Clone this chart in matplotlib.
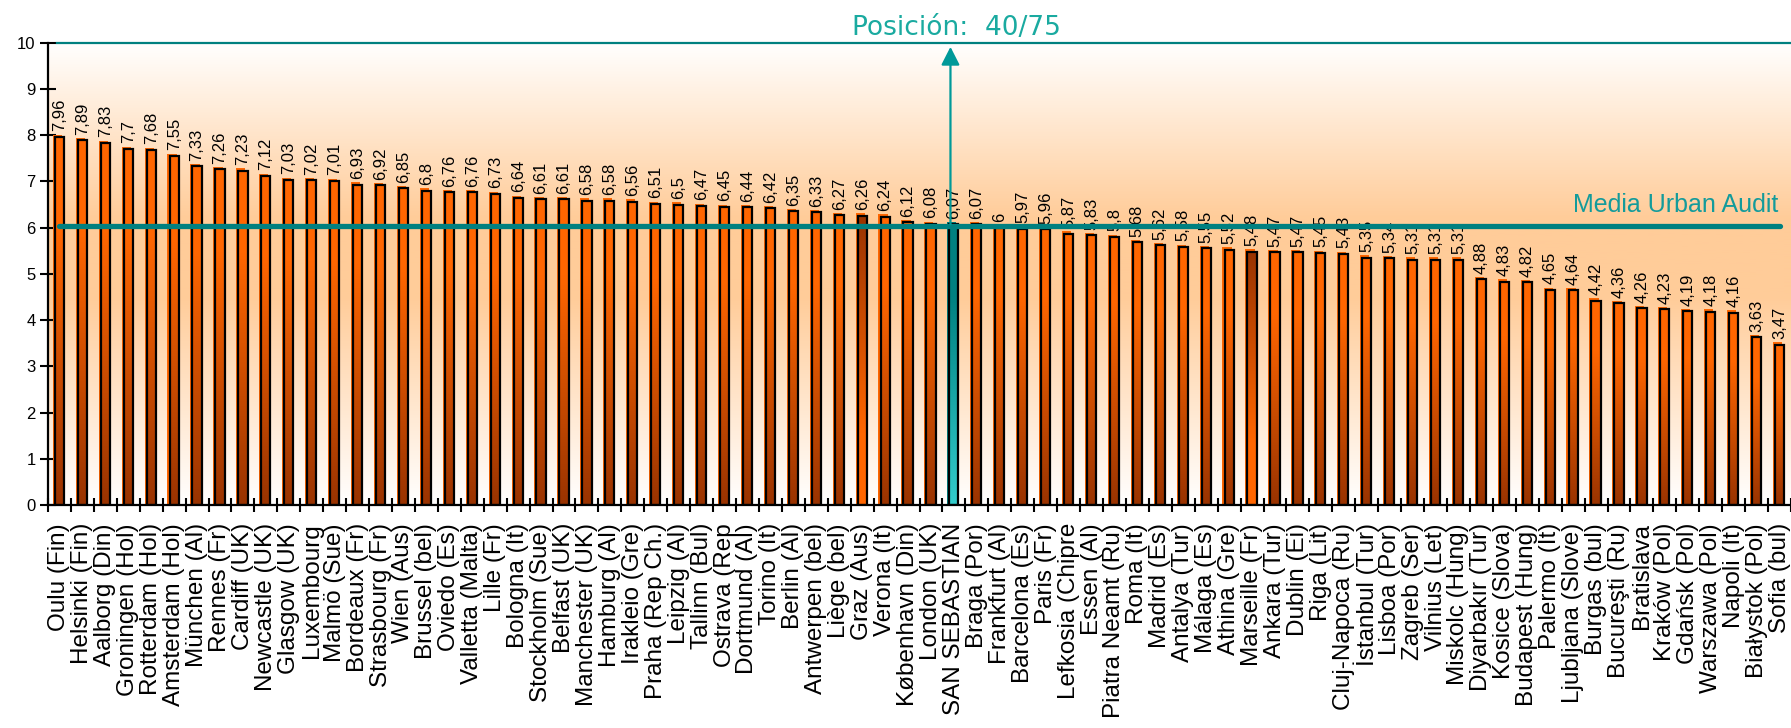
import matplotlib.pyplot as plt
import numpy as np
from matplotlib.colors import LinearSegmentedColormap

plt.rcParams['font.family'] = ['Liberation Sans', 'DejaVu Sans']

# Datos ----------------------------------------------
cities = ["Oulu (Fin)", "Helsinki (Fin)", "Aalborg (Din)", "Groningen (Hol)", "Rotterdam (Hol)",
          "Amsterdam (Hol)", "München (Al)", "Rennes (Fr)", "Cardiff (UK)", "Newcastle (UK)",
          "Glasgow (UK)", "Luxembourg", "Malmö (Sue)", "Bordeaux (Fr)", "Strasbourg (Fr)",
          "Wien (Aus)", "Brussel (bel)", "Oviedo (Es)", "Valletta (Malta)", "Lille (Fr)",
          "Bologna (It)", "Stockholm (Sue)", "Belfast (UK)", "Manchester (UK)", "Hamburg (Al)",
          "Irakleio (Gre)", "Praha (Rep Ch.)", "Leipzig (Al)", "Tallinn (Bul)", "Ostrava (Rep",
          "Dortmund (Al)", "Torino (It)", "Berlin (Al)", "Antwerpen (bel)", "Liège (bel)",
          "Graz (Aus)", "Verona (It)", "København (Din)", "London (UK)", "SAN SEBASTIAN",
          "Braga (Por)", "Frankfurt (Al)", "Barcelona (Es)", "Paris (Fr)", "Lefkosia (Chipre",
          "Essen (Al)", "Piatra Neamt (Ru)", "Roma (It)", "Madrid (Es)", "Antalya (Tur)",
          "Málaga (Es)", "Athina (Gre)", "Marseille (Fr)", "Ankara (Tur)", "Dublin (Ei)",
          "Riga (Lit)", "Cluj-Napoca (Ru)", "İstanbul (Tur)", "Lisboa (Por)", "Zagreb (Ser)",
          "Vilnius (Let)", "Miskolc (Hung)", "Diyarbakır (Tur)", "Kosice (Slova)", "Budapest (Hung)",
          "Palermo (It)", "Ljubljana (Slove)", "Burgas (bul)", "Bucureşti (Ru)", "Bratislava",
          "Kraków (Pol)", "Gdańsk (Pol)", "Warszawa (Pol)", "Napoli (It)", "Białystok (Pol)",
          "Sofia (bul)"]
values = [7.96, 7.89, 7.83, 7.7, 7.68, 7.55, 7.33, 7.26, 7.23, 7.12,
          7.03, 7.02, 7.01, 6.93, 6.92, 6.85, 6.8, 6.76, 6.76, 6.73,
          6.64, 6.61, 6.61, 6.58, 6.58, 6.56, 6.51, 6.5, 6.47, 6.45,
          6.44, 6.42, 6.35, 6.33, 6.27, 6.26, 6.24, 6.12, 6.08, 6.07,
          6.07, 6, 5.97, 5.96, 5.87, 5.83, 5.8, 5.68, 5.62, 5.58,
          5.55, 5.52, 5.48, 5.47, 5.47, 5.45, 5.43, 5.35, 5.34, 5.31,
          5.31, 5.31, 4.88, 4.83, 4.82, 4.65, 4.64, 4.42, 4.36, 4.26,
          4.23, 4.19, 4.18, 4.16, 3.63, 3.47]
media = 6.03
highlight = "SAN SEBASTIAN"
rank_text = "Posición:  40/75"
media_text = "Media Urban Audit"
reversed_fill = ["Graz (Aus)", "Marseille (Fr)"]

W, H = 1791, 728
fig = plt.figure(figsize=(W / 100, H / 100), dpi=100)
ax = fig.add_axes([48 / W, 1 - 505 / H, 1 - 48 / W, (505 - 42.7) / H])

n = len(values)
x = np.arange(n)
vals = np.array(values)
hi = cities.index(highlight)

# fondo degradado ------------------------------------
bg = LinearSegmentedColormap.from_list('bg', [(0, '#ffffff'), (0.45, '#ffcc99'),
                                              (0.62, '#ffcc99'), (1, '#ffffff')])
grad = np.linspace(0, 1, 256).reshape(-1, 1)
ax.imshow(grad, cmap=bg, aspect='auto', extent=(-0.5, n - 0.5, 0, 10),
          origin='lower', zorder=0)

# barras ---------------------------------------------
w = 0.4
orange = LinearSegmentedColormap.from_list('o', [(0, '#993300'), (0.75, '#ff6600'), (1, '#ff6600')])
teal = LinearSegmentedColormap.from_list('t', [(0, '#33cccc'), (0.75, '#008080'), (1, '#008080')])

shadow_cols = ['#008080' if c == highlight else '#ff6600' for c in cities]
ax.bar(x - 0.09, vals + 0.05, w, color=shadow_cols, zorder=2)
bars = ax.bar(x, vals, w, facecolor='none', edgecolor='black', linewidth=1.6, zorder=4)
for c, b in zip(cities, bars):
    cm = teal if c == highlight else orange
    g = grad[::-1] if c in reversed_fill else grad
    ax.imshow(g, cmap=cm, aspect='auto', origin='lower', zorder=3,
              extent=(b.get_x(), b.get_x() + b.get_width(), 0, b.get_height()))

for i, v in enumerate(values):
    ax.annotate(f"{v:g}".replace('.', ','), (i, v), xytext=(0, 4), textcoords='offset points',
                rotation=90, ha='center', va='bottom', fontsize=12, zorder=4)

# media y posición -----------------------------------
ax.plot([x[0], x[-1]], [media, media], color='#008080', lw=3.8, zorder=5,
        solid_capstyle='round')
ax.text(74.93, 6.34, media_text, color='#139b9b', fontsize=18, ha='right', va='baseline', zorder=6)
ax.axhline(10, xmin=0.005, color='#008080', lw=1.6, clip_on=False, zorder=5)
ax.annotate('', xy=(hi - 0.15, 9.91), xytext=(hi - 0.15, values[hi]),
            arrowprops=dict(arrowstyle='-|>,head_length=0.55,head_width=0.28',
                            color='#009999', lw=1.6, shrinkA=0, shrinkB=0, mutation_scale=20),
            annotation_clip=False, zorder=6)
ax.text(hi + 0.1, 10.17, rank_text, color='#1aaaa0', fontsize=19, family='DejaVu Sans',
        ha='center', va='baseline')

# ejes -----------------------------------------------
ax.set_xlim(-0.5, n - 0.5)
ax.set_ylim(0, 10)
ax.set_yticks(range(11))
ax.tick_params(axis='y', direction='inout', length=12, width=1.5, labelsize=12, pad=3)
ax.set_xticks(x)
ax.set_xticklabels(cities, rotation=90, fontsize=17.5)
ax.set_xticks(np.arange(n + 1) - 0.5, minor=True)
ax.tick_params(axis='x', which='major', length=0, pad=13)
ax.tick_params(axis='x', which='minor', direction='inout', length=9.5, width=1.5)
for s in ['top', 'right']:
    ax.spines[s].set_visible(False)
for s in ['left', 'bottom']:
    ax.spines[s].set_linewidth(1.6)
    ax.spines[s].set_zorder(6)

fig.savefig('out.png', dpi=100)
